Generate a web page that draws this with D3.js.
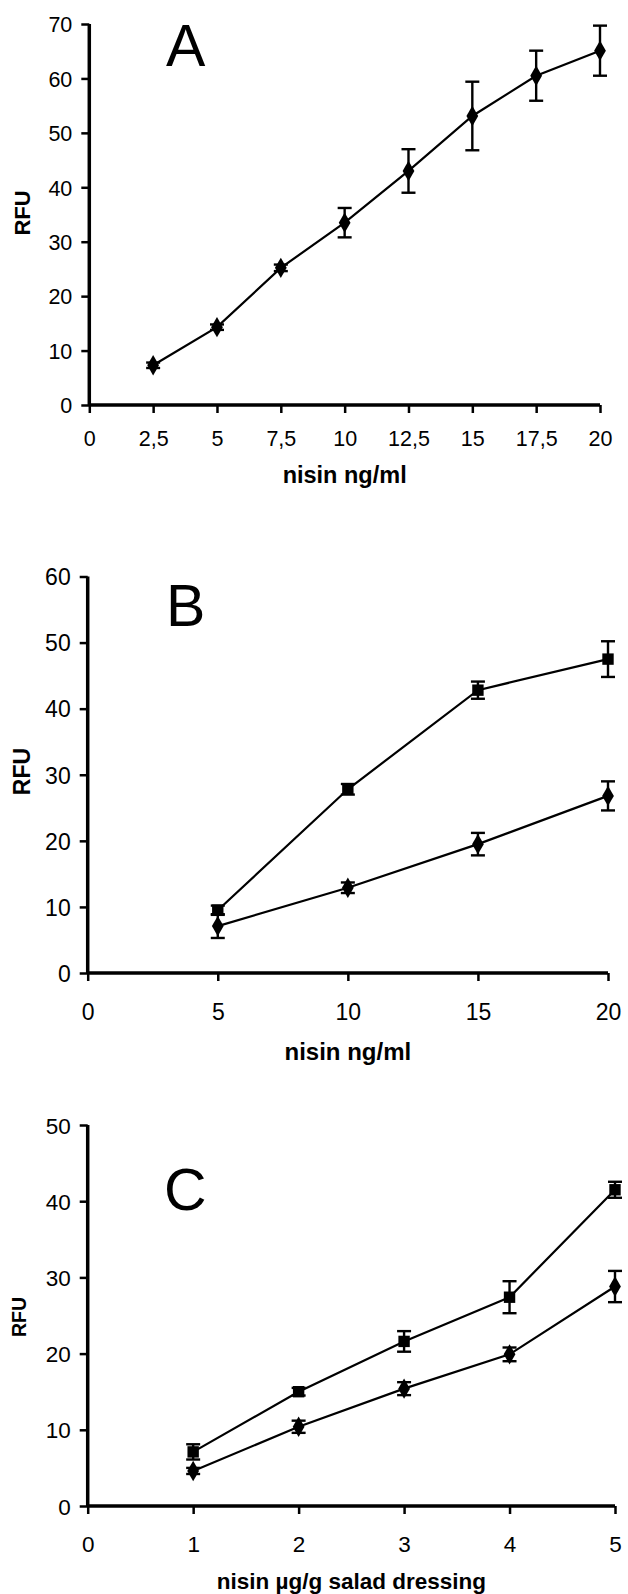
<!DOCTYPE html>
<html><head><meta charset="utf-8">
<script src="https://cdn.jsdelivr.net/npm/d3@7"></script>
<style>html,body{margin:0;padding:0;background:#fff;}svg{display:block;}</style>
</head><body>
<svg id="c" width="628" height="1594"></svg>
<script>
// Panel A
const aX = [2.5, 5, 7.5, 10, 12.5, 15, 17.5, 20];
const aDiamond = [7.3, 14.3, 25.2, 33.5, 43.0, 53.1, 60.5, 65.1];
const aDiamondErr = [0.5, 0.5, 0.6, 2.7, 4.0, 6.3, 4.6, 4.6];
const aXTicks = [0, 2.5, 5, 7.5, 10, 12.5, 15, 17.5, 20];
const aXTickLabels = ["0", "2,5", "5", "7,5", "10", "12,5", "15", "17,5", "20"];
const aYTicks = [0, 10, 20, 30, 40, 50, 60, 70];

// Panel B
const bX = [5, 10, 15, 20];
const bSquare = [9.5, 27.8, 42.8, 47.5];
const bSquareErr = [0.7, 0.8, 1.3, 2.7];
const bDiamond = [7.1, 12.9, 19.5, 26.8];
const bDiamondErr = [1.8, 0.8, 1.7, 2.2];
const bXTicks = [0, 5, 10, 15, 20];
const bYTicks = [0, 10, 20, 30, 40, 50, 60];

// Panel C
const cX = [1, 2, 3, 4, 5];
const cSquare = [7.1, 15.0, 21.6, 27.4, 41.5];
const cSquareErr = [1.0, 0.5, 1.35, 2.1, 1.05];
const cDiamond = [4.6, 10.4, 15.4, 19.9, 28.8];
const cDiamondErr = [0.4, 0.8, 0.85, 0.9, 2.05];
const cXTicks = [0, 1, 2, 3, 4, 5];
const cYTicks = [0, 10, 20, 30, 40, 50];

const svg = d3.select("#c");
const FONT = "'Liberation Sans', Arial, sans-serif";

function panel(cfg) {
  const x = d3.scaleLinear().domain(cfg.xDomain).range([cfg.x0, cfg.x1]);
  const y = d3.scaleLinear().domain(cfg.yDomain).range([cfg.y0, cfg.y1]);
  const g = svg.append("g");

  const xAxis = d3.axisBottom(x).tickValues(cfg.xTicks).tickSize(8)
    .tickFormat((d, i) => cfg.xLabels ? cfg.xLabels[i] : String(d));
  const gx = g.append("g").attr("transform", `translate(0,${cfg.y0})`).call(xAxis);
  gx.select(".domain").attr("stroke", "#000").attr("stroke-width", 3.5).attr("d", `M${cfg.x0},0H${cfg.x1}`);
  gx.selectAll(".tick line").attr("stroke", "#000").attr("stroke-width", 2.5);
  gx.selectAll(".tick text").attr("font-family", FONT).attr("font-size", cfg.tickFont)
    .attr("fill", "#000").attr("dy", null).attr("y", cfg.xLabelOffset);

  const yAxis = d3.axisLeft(y).tickValues(cfg.yTicks).tickSize(8);
  const gy = g.append("g").attr("transform", `translate(${cfg.x0},0)`).call(yAxis);
  gy.select(".domain").attr("stroke", "#000").attr("stroke-width", 3.5).attr("d", `M0,${cfg.y0}V${cfg.y1}`);
  gy.selectAll(".tick line").attr("stroke", "#000").attr("stroke-width", 2.5);
  gy.selectAll(".tick text").attr("font-family", FONT).attr("font-size", cfg.tickFont)
    .attr("fill", "#000").attr("x", -17).attr("dy", "0.36em");

  cfg.series.forEach(s => {
    const pts = cfg.xs.map((v, i) => ({ x: v, y: s.values[i], e: s.err[i] }));
    g.append("path").datum(pts)
      .attr("fill", "none").attr("stroke", "#000").attr("stroke-width", 2.2)
      .attr("d", d3.line().x(d => x(d.x)).y(d => y(d.y)));
    const eb = g.append("g").selectAll("g").data(pts).join("g");
    eb.append("line").attr("x1", d => x(d.x)).attr("x2", d => x(d.x))
      .attr("y1", d => y(d.y - d.e)).attr("y2", d => y(d.y + d.e))
      .attr("stroke", "#000").attr("stroke-width", 2.4);
    [-1, 1].forEach(sg => {
      eb.append("line").attr("x1", d => x(d.x) - 7).attr("x2", d => x(d.x) + 7)
        .attr("y1", d => y(d.y + sg * d.e)).attr("y2", d => y(d.y + sg * d.e))
        .attr("stroke", "#000").attr("stroke-width", 2.4);
    });
    const sym = s.shape === "square" ? d3.symbolSquare : d3.symbolDiamond;
    g.append("g").selectAll("path").data(pts).join("path")
      .attr("transform", d => `translate(${x(d.x)},${y(d.y)})`)
      .attr("d", d3.symbol().type(sym).size(s.shape === "square" ? 130 : 120))
      .attr("fill", "#000");
  });

  g.append("text").attr("x", (cfg.x0 + cfg.x1) / 2).attr("y", cfg.xTitleY)
    .attr("text-anchor", "middle").attr("font-family", FONT).attr("font-weight", "bold")
    .attr("font-size", cfg.titleFont).text(cfg.xTitle);
  g.append("text").attr("transform", `translate(${cfg.yTitleX},${cfg.yTitleY}) rotate(-90)`)
    .attr("text-anchor", "middle").attr("font-family", FONT).attr("font-weight", "bold")
    .attr("font-size", cfg.yTitleFont).attr("dy", "0.35em").text("RFU");
  g.append("text").attr("x", cfg.letterX).attr("y", cfg.letterY)
    .attr("font-family", FONT).attr("font-size", 59).text(cfg.letter);
}

panel({
  xDomain: [0, 20], yDomain: [0, 70], x0: 89.3, x1: 600, y0: 405, y1: 24,
  xTicks: aXTicks, xLabels: aXTickLabels, yTicks: aYTicks, tickFont: 21.5, xLabelOffset: 41,
  xs: aX, series: [{ values: aDiamond, err: aDiamondErr, shape: "diamond" }],
  xTitle: "nisin ng/ml", xTitleY: 483, titleFont: 23.5,
  yTitleX: 22, yTitleY: 213, yTitleFont: 22,
  letter: "A", letterX: 166, letterY: 66
});

panel({
  xDomain: [0, 20], yDomain: [0, 60], x0: 87.7, x1: 608, y0: 973, y1: 576.5,
  xTicks: bXTicks, yTicks: bYTicks, tickFont: 23, xLabelOffset: 47.3,
  xs: bX, series: [
    { values: bSquare, err: bSquareErr, shape: "square" },
    { values: bDiamond, err: bDiamondErr, shape: "diamond" }],
  xTitle: "nisin ng/ml", xTitleY: 1060, titleFont: 24,
  yTitleX: 22, yTitleY: 771.5, yTitleFont: 23,
  letter: "B", letterX: 166, letterY: 626
});

panel({
  xDomain: [0, 5], yDomain: [0, 50], x0: 87.7, x1: 615, y0: 1506, y1: 1125,
  xTicks: cXTicks, yTicks: cYTicks, tickFont: 22.5, xLabelOffset: 45.7,
  xs: cX, series: [
    { values: cSquare, err: cSquareErr, shape: "square" },
    { values: cDiamond, err: cDiamondErr, shape: "diamond" }],
  xTitle: "nisin µg/g salad dressing", xTitleY: 1589, titleFont: 22.5,
  yTitleX: 19, yTitleY: 1317, yTitleFont: 19.5,
  letter: "C", letterX: 164, letterY: 1210
});
</script>
</body></html>
